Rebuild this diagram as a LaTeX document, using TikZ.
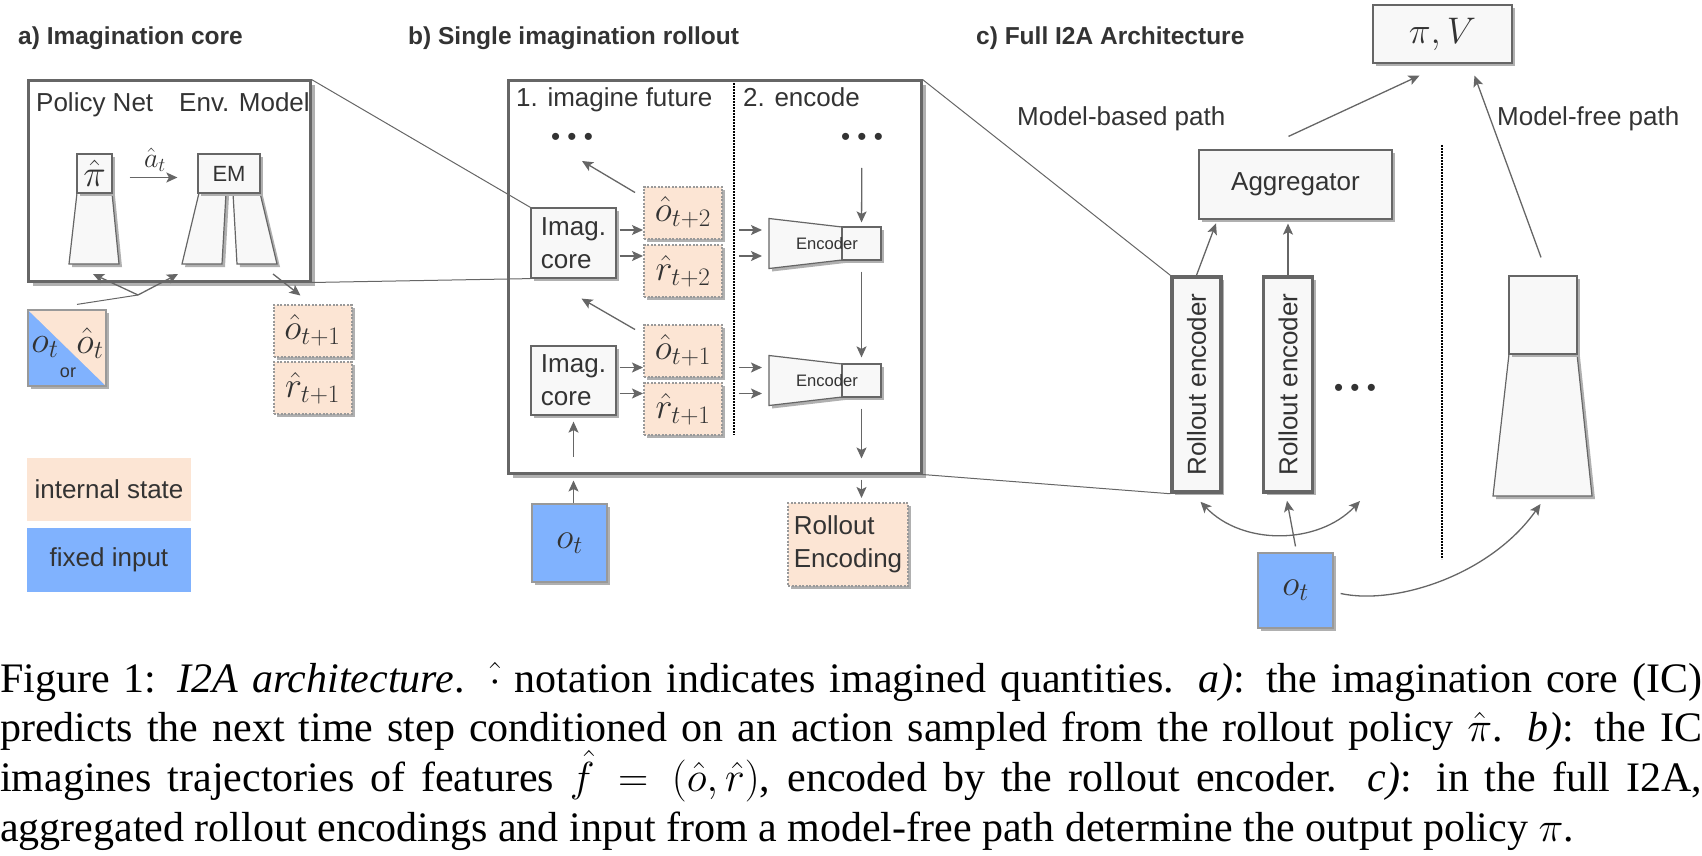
\RequirePackage{fix-cm}
\documentclass[tikz,border=0pt]{standalone}
\usepackage[no-math]{fontspec}
\setmainfont{Liberation Serif}
\setsansfont{Liberation Sans}
\usepackage{xcolor}
\usetikzlibrary{positioning,calc,arrows.meta,shadows}

\definecolor{linegray}{HTML}{666666}
\definecolor{boxfill}{HTML}{F8F8F8}
\definecolor{shadowgray}{HTML}{B0B0B0}
\definecolor{statepeach}{HTML}{FCE5D4}
\definecolor{inputblue}{HTML}{80B2FE}
\definecolor{dotgray}{HTML}{999999}
\definecolor{labelgray}{HTML}{333333}

\begin{document}
\begin{tikzpicture}[
    x=1pt, y=-1pt,
    >={Stealth[length=11pt, width=10pt, inset=2.5pt]},
    every node/.style={font=\sffamily\fontsize{26}{33}\selectfont, text=labelgray, inner sep=0pt},
    shadowed/.style={drop shadow={shadow xshift=#1, shadow yshift=-#1, fill=shadowgray, opacity=1}},
    shadowed/.default=3pt,
    framebox/.style={draw=linegray, line width=3pt, fill=white, shadowed=4.5pt},
    netbox/.style={draw=linegray, line width=1.2pt, fill=boxfill, shadowed},
    statebox/.style={draw=dotgray, line width=2pt, dash pattern=on 2pt off 1.5pt, fill=statepeach, shadowed,
        minimum width=78pt, minimum height=52pt, font=\fontsize{36}{36}\selectfont},
    inputbox/.style={draw=dotgray, line width=1.2pt, fill=inputblue, shadowed},
    legendbox/.style={minimum width=164pt, minimum height=63pt},
    title/.style={anchor=base west, font=\sffamily\bfseries\fontsize{24.5}{30}\selectfont},
    arrowline/.style={draw=linegray, line width=1.3pt, ->},
    linkline/.style={draw=linegray, line width=1pt},
    divider/.style={draw=black, line width=2.5pt, dash pattern=on 2pt off 1pt},
    captionline/.style={anchor=base west, text=black, font=\rmfamily\fontsize{42}{49.5}\selectfont}
]
    \useasboundingbox (0,0) rectangle (1702,856);

    % a) imagination core
    \node[title] (titleA) at (18,45) {a) Imagination core};
    \node[framebox, minimum width=282pt, minimum height=200pt] (boxA) at (169,181) {};
    \node[anchor=base west] (policyLbl) at (36,112) {Policy Net};
    \node[anchor=base west] (envLbl) at (179,112) {Env. Model};
    \filldraw[netbox] (77,193) -- (112,193) -- (119,264) -- (69,264) -- cycle;
    \node[netbox, minimum width=35pt, minimum height=39pt, font=\fontsize{38}{38}\selectfont] (piNet) at (94.5,173.5) {$\hat{\pi}$};
    \filldraw[netbox] (199,193) -- (226,193) -- (222,264) -- (182,264) -- cycle;
    \filldraw[netbox] (233,193) -- (260,193) -- (277,264) -- (237,264) -- cycle;
    \node[netbox, minimum width=62pt, minimum height=39pt, font=\sffamily\fontsize{22}{22}\selectfont] (envNet) at (229,173.5) {EM};
    \draw[arrowline, shorten <=17pt, shorten >=20pt] ([yshift=-4pt]piNet.east) -- ([yshift=-4pt]envNet.west)
        node[midway, above=5pt, font=\fontsize{28}{28}\selectfont] (actLbl) {$\hat{a}_t$};

    \node[draw=dotgray, line width=1.2pt, shadowed, minimum width=78pt, minimum height=76pt,
        path picture={
            \fill[inputblue] (path picture bounding box.north west) -- (path picture bounding box.south east)
                -- (path picture bounding box.south west) -- cycle;
            \fill[statepeach] (path picture bounding box.north west) -- (path picture bounding box.north east)
                -- (path picture bounding box.south east) -- cycle;
        }] (mixIn) at (67,348) {};
    \node[font=\fontsize{37}{37}\selectfont] (mixObs) at (45,347) {$o_t$};
    \node[font=\fontsize{37}{37}\selectfont] (mixHat) at (90,343) {$\hat{o}_t$};
    \node[font=\sffamily\fontsize{18}{18}\selectfont] (mixOr) at (68,373) {or};

    \node[statebox] (oA) at (312.5,330.5) {$\hat{o}_{t+1}$};
    \node[statebox] (rA) at (312.5,388) {$\hat{r}_{t+1}$};

    \coordinate (fork) at (138,295);
    \coordinate (piIn) at (93,274);
    \coordinate (envIn) at (178,274);
    \coordinate (envOut) at (273,274);
    \draw[linkline] ($(mixIn.north)+(10,-5)$) -- (fork);
    \draw[arrowline] (fork) -- (piIn);
    \draw[arrowline] (fork) -- (envIn);
    \draw[arrowline] (envOut) -- ($(oA.north west)+(28,-8)$);

    \node[legendbox, fill=statepeach] (legState) at (109,489.5) {internal state};
    \node[legendbox, fill=inputblue, minimum height=64pt] (legInput) at (109,560) {fixed input};

    % b) single imagination rollout
    \node[title] (titleB) at (408,45) {b) Single imagination rollout};
    \node[framebox, minimum width=413pt, minimum height=392pt] (boxB) at (714.5,277) {};
    \draw[divider] (734,83) -- (734,435);
    \node[anchor=base west] (imagineLbl) at (516,107) {1. imagine future};
    \node[anchor=base west] (encodeLbl) at (743,107) {2. encode};
    \node (dotsL) at (572,139) {\textbullet\ \textbullet\ \textbullet};
    \node (dotsR) at (862,139) {\textbullet\ \textbullet\ \textbullet};

    \node[netbox, minimum width=85pt, minimum height=70pt, align=left] (icTop) at (573.5,243) {Imag.\\core};
    \node[netbox, minimum width=85pt, minimum height=69pt, align=left] (icBot) at (573.5,380.5) {Imag.\\core};
    \node[statebox] (oB2) at (683,212.5) {$\hat{o}_{t+2}$};
    \node[statebox] (rB2) at (683,271) {$\hat{r}_{t+2}$};
    \node[statebox] (oB1) at (683,350.5) {$\hat{o}_{t+1}$};
    \node[statebox] (rB1) at (683,409) {$\hat{r}_{t+1}$};

    \foreach \name/\y in {encTop/243.5, encBot/380.5} {
        \filldraw[netbox] (769,{\y-25}) -- (842,{\y-16.5}) -- (842,{\y+16.5}) -- (769,{\y+25}) -- cycle;
        \node[netbox, minimum width=39pt, minimum height=33pt] (\name) at (861.5,\y) {};
        \coordinate (\name In) at (769,\y);
        \node[font=\sffamily\fontsize{16.6}{20}\selectfont] (\name Lbl) at (827,\y) {Encoder};
    }

    \foreach \ic/\st/\enc in {icTop/oB2/encTopIn, icBot/oB1/encBotIn} {
        \foreach \dy in {13,-13} {
            \draw[arrowline, shorten <=3pt] ([yshift=\dy pt]\ic.east) -- ([yshift=\dy pt]\ic.east -| \st.west);
            \draw[arrowline, shorten <=16pt, shorten >=7pt] ([yshift=\dy pt]\ic.east -| \st.east) -- ([yshift=\dy pt]\ic.east -| \enc);
        }
    }
    \draw[arrowline] ($(oB2.north west)+(-8,7)$) -- ($(dotsL)+(10,22)$);
    \draw[arrowline] ($(oB1.north west)+(-8,6)$) -- ($(icTop.south)+(8,20)$);

    \node[inputbox, minimum width=75pt, minimum height=78pt, font=\fontsize{36}{36}\selectfont] (obsB) at (569.5,543) {$o_t$};
    \node[statebox, minimum width=120pt, minimum height=83pt, align=left, font=\sffamily\fontsize{26}{33}\selectfont] (rollEnc) at (848,544.5) {Rollout\\Encoding};

    \draw[arrowline, shorten <=29pt, shorten >=4pt] (dotsR.center) -- (encTop.north);
    \draw[arrowline, shorten <=11pt, shorten >=6pt] (encTop.south) -- (encBot.north);
    \draw[arrowline, shorten <=11pt, shorten >=16pt] (encBot.south) -- (encBot.south |- boxB.south);
    \draw[arrowline, shorten <=5pt, shorten >=4pt] (encBot.south |- boxB.south) -- (encBot.south |- rollEnc.north);
    \draw[arrowline, shorten >=6pt] (icBot |- obsB.north) -- (icBot |- boxB.south);
    \draw[arrowline, shorten <=18pt, shorten >=6pt] (icBot |- boxB.south) -- (icBot.south);

    \draw[linkline] (boxA.north east) -- (icTop.north west);
    \draw[linkline] (boxA.south east) -- (icTop.south west);

    % c) full I2A architecture
    \node[title] (titleC) at (976,45) {c) Full I2A Architecture};
    \node[netbox, minimum width=139pt, minimum height=58pt, font=\fontsize{37}{37}\selectfont] (piV) at (1442.5,34) {$\pi, V$};
    \node[anchor=base west] (mbLbl) at (1017,125) {Model-based path};
    \node[anchor=base west] (mfLbl) at (1497,125) {Model-free path};
    \node[netbox, minimum width=193pt, minimum height=69pt] (aggr) at (1295.5,184.5) {Aggregator};
    \foreach \name/\x in {re1/1196.5, re2/1288}
        \node[netbox, line width=3.5pt, minimum width=49pt, minimum height=215pt] (\name) at (\x,384.5) {\rotatebox{90}{Rollout encoder}};
    \node (dotsC) at (1355,390) {\textbullet\ \textbullet\ \textbullet};
    \draw[divider] (1442,145) -- (1442,559);

    \filldraw[netbox] (1509,354) -- (1577,354) -- (1592,496) -- (1493,496) -- cycle;
    \coordinate (mfBase) at (1542.5,496);
    \node[netbox, minimum width=68pt, minimum height=78pt] (mfNet) at (1543,315) {};
    \node[inputbox, minimum width=75pt, minimum height=75pt, font=\fontsize{36}{36}\selectfont] (obsC) at (1295.5,590.5) {$o_t$};

    \draw[arrowline, shorten >=4pt] (re1.north) -- ($(aggr.south west)+(19,0)$);
    \draw[arrowline, shorten >=4pt] (re2.north) -- (re2.north |- aggr.south);
    \draw[arrowline] ($(aggr.north)+(-7,-13)$) -- ($(piV.south)+(-23,12)$);
    \draw[arrowline] ($(mfNet.north)+(-2,-18)$) -- ($(piV.south)+(32,12)$);
    \draw[arrowline] ($(obsC.north)+(0,-6)$) -- ($(re2.south)+(-1,7)$);
    \draw[arrowline, <->] ($(re1.south)+(4,8)$) .. controls +(42,44) and +(-42,44) .. ($(dotsC)+(5,111)$);
    \draw[arrowline] ($(obsC.east)+(7,3)$) .. controls +(55,12) and +(-50,71) .. ($(mfBase)+(-2,8)$);

    \draw[linkline] (boxB.north east) -- (re1.north west);
    \draw[linkline] (boxB.south east) -- (re1.south west);

    % caption
    \node[captionline] (capA) at (0,692)
        {\makebox[1702pt][s]{Figure 1: \textit{I2A architecture}. $\hat{\cdot}$ notation indicates imagined quantities. \textit{a)}: the imagination core (IC)}};
    \node[captionline] (capB) at (0,741)
        {\makebox[1702pt][s]{predicts the next time step conditioned on an action sampled from the rollout policy $\hat{\pi}$. \textit{b)}: the IC}};
    \node[captionline] (capC) at (0,791)
        {\makebox[1702pt][s]{imagines trajectories of features $\hat{f} = (\hat{o}, \hat{r})$, encoded by the rollout encoder. \textit{c)}: in the full I2A,}};
    \node[captionline] (capD) at (0,841)
        {aggregated rollout encodings and input from a model-free path determine the output policy $\pi$.};
\end{tikzpicture}
\end{document}
